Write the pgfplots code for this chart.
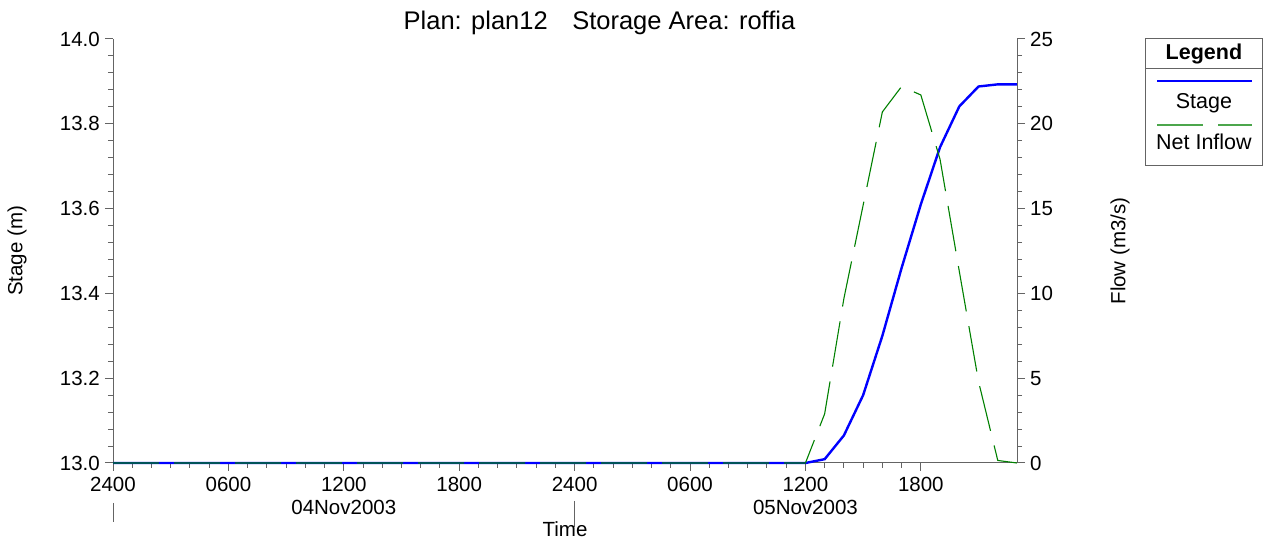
\documentclass[border=0pt]{standalone}
\usepackage{fontspec}
\setmainfont{Liberation Sans}
\usepackage{pgfplots}
\pgfplotsset{compat=1.18}
\definecolor{axisgray}{RGB}{100,100,100}
\definecolor{stageblue}{RGB}{0,0,255}
\definecolor{flowgreen}{RGB}{0,128,0}

\pgfplotstableread{
h stage
0 13.000
36 13.000
37 13.009
38 13.065
39 13.160
40 13.300
41 13.460
42 13.610
43 13.745
44 13.841
45 13.888
46 13.893
47 13.893
}\stagetable

\pgfplotstableread{
h flow
0 0
36 0
37 2.9
38 9.7
39 15.2
40 20.7
41 22.2
42 21.7
43 17.9
44 11.3
45 4.8
46 0.15
47 0
}\flowtable

\begin{document}
\begin{tikzpicture}[font=\fontsize{20.5}{23}\selectfont]
\useasboundingbox (0,0) rectangle (1266pt,540pt);
\pgfplotsset{
  commonaxis/.style={
    at={(113pt,77pt)}, anchor=south west,
    scale only axis, width=904pt, height=424pt,
    xmin=0, xmax=47, clip=false,
    axis line style={draw=axisgray, line width=1pt},
    tick style={draw=axisgray, line width=1pt},
    tick align=outside,
    major tick length=8pt, minor tick length=5pt,
    /pgf/number format/assume math mode=true,
    tick label style={font=\fontsize{20.5}{23}\selectfont, text=black},
    label style={font=\fontsize{20.5}{23}\selectfont},
  }
}
\begin{axis}[
  commonaxis,
  ymin=13, ymax=14,
  axis x line*=bottom, axis y line*=left,
  xtick={0,6,12,18,24,30,36,42},
  xticklabels={2400,0600,{1200\\04Nov2003},1800,2400,0600,{1200\\05Nov2003},1800},
  minor x tick num=5,
  x tick label style={align=center, inner sep=0pt, yshift=-6pt},
  ytick={13,13.2,13.4,13.6,13.8,14},
  yticklabels={13.0,13.2,13.4,13.6,13.8,14.0},
  minor y tick num=4,
  y tick label style={inner sep=0pt, xshift=-5pt},
  xlabel={Time}, ylabel={Stage (m)},
  every axis x label/.style={at={(rel axis cs:0.5,-0.1745)}, anchor=base},
  every axis y label/.style={at={(rel axis cs:-0.1062,0.5)}, anchor=center, rotate=90},
]
\addplot[stageblue, line width=2.4pt] table[x=h, y=stage] {\stagetable};
\draw[axisgray, line width=1pt] (axis cs:0,13) ++(0pt,-40pt) -- ++(0pt,-19pt);
\draw[axisgray, line width=1pt] (axis cs:24,13) ++(0pt,-38pt) -- ++(0pt,-26pt);
\end{axis}
\begin{axis}[
  commonaxis,
  ymin=0, ymax=25,
  hide x axis, axis y line*=right,
  ytick={0,5,10,15,20,25},
  minor y tick num=4,
  y tick label style={inner sep=0pt, xshift=5pt},
  ylabel={Flow (m3/s)},
  every axis y label/.style={at={(rel axis cs:1.1139,0.5)}, anchor=center, rotate=90},
]
\addplot[flowgreen, line width=1.1pt, dash pattern=on 46pt off 15pt] table[x=h, y=flow] {\flowtable};
\end{axis}
\node[anchor=base, font=\fontsize{25.5}{30}\selectfont] at (599.5pt,510pt) {Plan: plan12\hspace{0.96em}Storage Area: roffia};
% legend
\draw[axisgray, line width=1pt] (1145pt,374pt) rectangle (1262.7pt,501.7pt);
\draw[axisgray, line width=1pt] (1145pt,471pt) -- (1262.7pt,471pt);
\node[anchor=base, font=\bfseries\fontsize{21.5}{25}\selectfont] at (1203.9pt,480pt) {Legend};
\draw[stageblue, line width=2pt] (1157pt,459.3pt) -- (1252pt,459.3pt);
\node[anchor=base, font=\fontsize{21.5}{25}\selectfont] at (1203.9pt,431.7pt) {Stage};
\draw[flowgreen!70!white, line width=1.1pt, dash pattern=on 46pt off 15pt] (1157pt,415pt) -- (1252pt,415pt);
\node[anchor=base, font=\fontsize{21.5}{25}\selectfont] at (1203.9pt,390pt) {Net Inflow};
\end{tikzpicture}
\end{document}
